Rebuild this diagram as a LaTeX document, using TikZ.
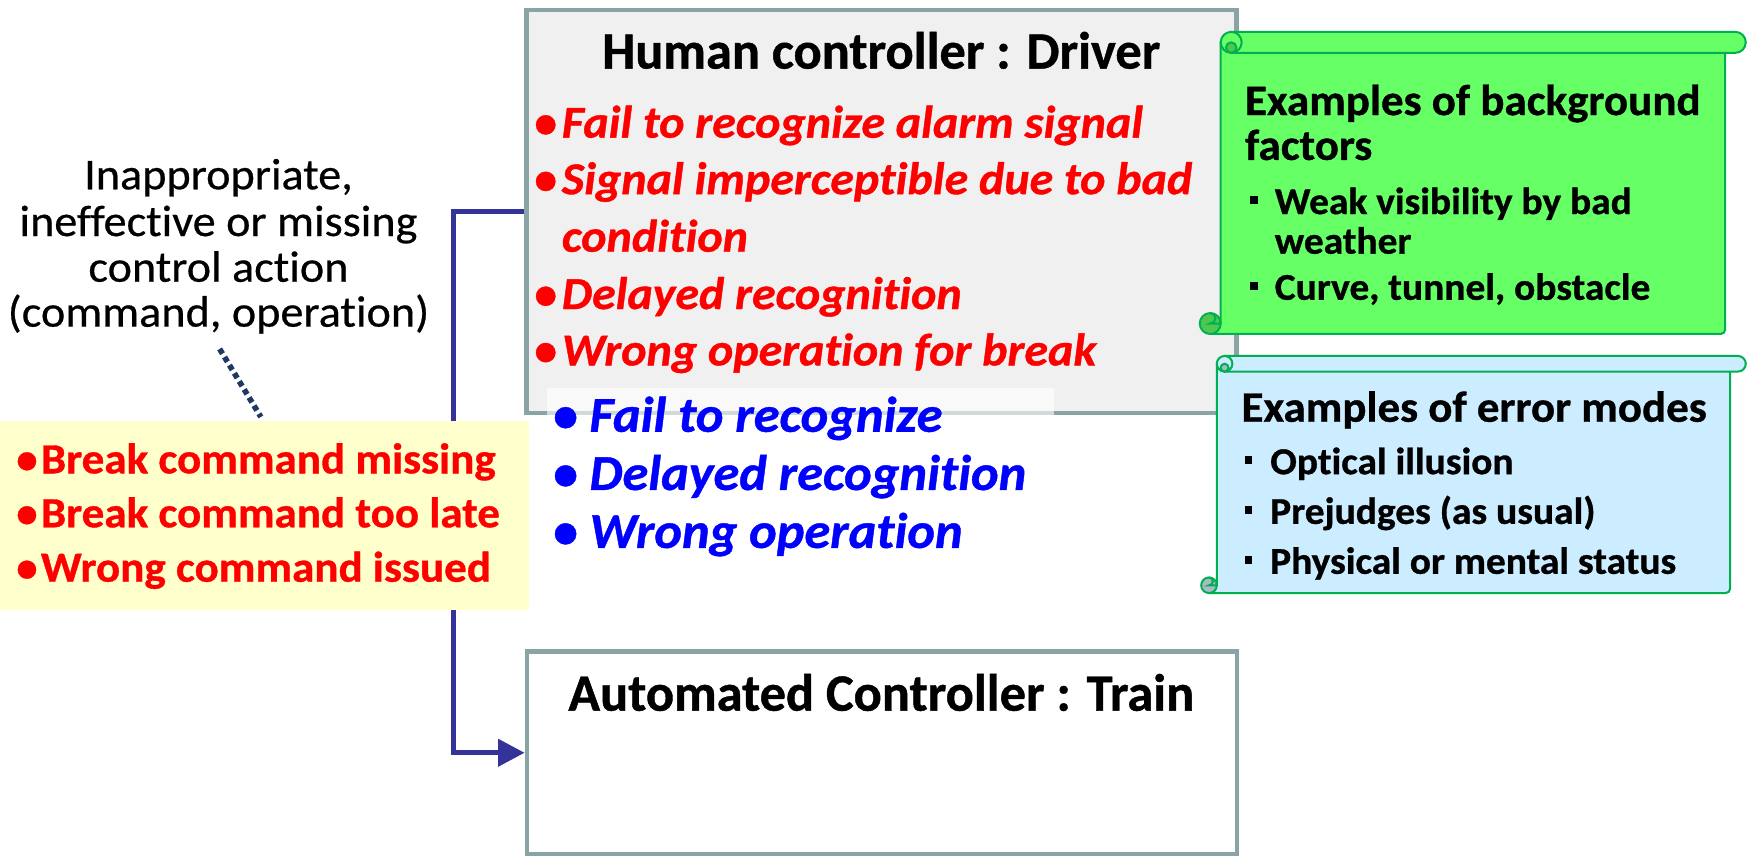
\documentclass[tikz,border=0pt]{standalone}
\usepackage{fontspec}
\setmainfont{Carlito}[
  Ligatures=NoCommon,
  UprightFeatures={FakeBold=0.5},
  BoldFeatures={FakeBold=0.8},
  ItalicFeatures={FakeBold=0.5},
  BoldItalicFeatures={FakeBold=0.8}]
\usepackage{graphicx}
\usetikzlibrary{arrows.meta}

\definecolor{boxline}{HTML}{8AA3A5}
\definecolor{boxfill}{HTML}{F0F0F0}
\definecolor{flowblue}{HTML}{333399}
\definecolor{dotnavy}{HTML}{1F3864}
\definecolor{noteyellow}{HTML}{FFFFCC}
\definecolor{errred}{HTML}{FF0000}
\definecolor{modeblue}{HTML}{0000FF}
\definecolor{scrollgreen}{HTML}{66FF66}
\definecolor{scrollgreendark}{HTML}{4FC84F}
\definecolor{scrollblue}{HTML}{CCECFF}
\definecolor{scrollbluedark}{HTML}{A9BAC6}
\definecolor{scrolledge}{HTML}{00B050}

% horizontal stretch of a line of text
\newcommand{\sx}[2]{\scalebox{#1}[1]{#2}}
% bullet hanging left of the text start, centred #1/2 before it
\newcommand{\dotmark}[1]{\llap{\makebox[#1][c]{\textbullet}}}
% small square bullet hanging left of the text start
\newcommand{\sqmark}[1]{\llap{\rule[9pt]{7pt}{7pt}\hspace{#1}}}

% scroll banner: #1 body left, #2 top, #3 body right, #4 right end of roll,
% #5 bottom, #6 curl radius, #7 fill, #8 shade of the curls
\newcommand{\scrollbanner}[8]{%
  \pgfmathsetmacro\curlhalf{#6/2}%
  \draw[scrollpen, fill=#7] (#1,#2+#6) -- (#1,#5-#6) -- (#1-#6,#5-#6) -- (#1-#6,#5)
    -- (#3-4,#5) arc[start angle=-90, end angle=0, radius=4pt] -- (#3,#2+#6) -- cycle;
  \draw[scrollpen, fill=#7] (#1+#6,#2) -- (#4-#6,#2)
    arc[start angle=90, end angle=-90, radius=#6pt] -- (#1+#6,#2+2*#6) -- cycle;
  \draw[scrollpen, fill=#7] (#1+#6,#2+#6) circle[radius=#6pt];
  \draw[scrollpen, fill=#8] (#1+#6,#2+1.5*#6) circle[radius=\curlhalf pt];
  \draw[scrollpen, fill=#8] (#1-#6,#5-#6) circle[radius=#6pt];
  \draw[scrollpen] (#1-#6,#5-2*#6) arc[start angle=90, end angle=-90, radius=\curlhalf pt]
    -- (#1,#5-#6);
}

\tikzset{
  panel/.style={draw=boxline, line width=4pt, inner sep=0pt},
  flow/.style={draw=flowblue, line width=4.2pt},
  dots/.style={draw=dotnavy, line width=5pt, dash pattern=on 5pt off 3.5pt},
  scrollpen/.style={draw=scrolledge, line width=1.8pt},
  hdr/.style={font=\fontsize{47}{47}\selectfont\bfseries, anchor=base, inner sep=0pt},
  errline/.style={font=\fontsize{41}{41}\selectfont\bfseries\itshape, text=errred, anchor=base west, inner sep=0pt},
  modeline/.style={font=\fontsize{45}{45}\selectfont\bfseries\itshape, text=modeblue, anchor=base west, inner sep=0pt},
  cmdline/.style={font=\fontsize{38.5}{38.5}\selectfont\bfseries, text=errred, anchor=base west, inner sep=0pt},
  actline/.style={font=\fontsize{39.5}{39.5}\selectfont, anchor=base, inner sep=0pt},
  scrollhead/.style={font=\fontsize{39}{39}\selectfont\bfseries, anchor=base west, inner sep=0pt},
  scrollitem/.style={font=\fontsize{34}{34}\selectfont\bfseries, anchor=base west, inner sep=0pt},
}

\begin{document}
\begin{tikzpicture}[x=1pt, y=-1pt]
\useasboundingbox (0,0) rectangle (1568,767);

% controller boxes
\node[panel, fill=boxfill, minimum width=637pt, minimum height=361.5pt] (human) at (790.75,189.75) {};
\node[panel, fill=white, minimum width=637pt, minimum height=181.5pt] (auto) at (791,675.25) {};

% control action from the driver to the train
\draw[flow, -{Triangle[length=23.6pt, width=24pt]}] (human.west) -- ++(-63.5,0) |- (auto.west);

% unsafe control actions
\node[fill=noteyellow, inner sep=0pt, minimum width=474.6pt, minimum height=169pt] (note) at (237.3,462.5) {};
\node[cmdline] (cmd1) at (36.5,424.6) {\dotmark{25pt}\sx{1.05}{Break command missing}};
\node[cmdline] (cmd2) at (36.5,473)   {\dotmark{25pt}\sx{1.05}{Break command too late}};
\node[cmdline] (cmd3) at (36.5,521.8) {\dotmark{25pt}\sx{1.05}{Wrong command issued}};

% label of the control action
\node[actline] (act1) at (196,169.8) {\sx{1.05}{Inappropriate,}};
\node[actline] (act2) at (196,211.7) {\sx{1.05}{ineffective or missing}};
\node[actline] (act3) at (196,252.7) {\sx{1.05}{control action}};
\node[actline] (act4) at (196,293)   {\sx{1.05}{(command, operation)}};
\coordinate (leadA) at (197,313);
\coordinate (leadB) at (234,374);
\draw[dots] (leadA) -- (leadB);

% driver
\node[hdr] (humantitle) at (790.5,61.5) {Human controller : Driver};
\node[errline] (err1) at (503.8,123.5) {\dotmark{29.6pt}\sx{1.05}{Fail to recognize alarm signal}};
\node[errline] (err2) at (503.8,174.2) {\dotmark{29.6pt}\sx{1.05}{Signal imperceptible due to bad}};
\node[errline] (err3) at (503.8,225.8) {\sx{1.05}{condition}};
\node[errline] (err4) at (503.8,277.2) {\dotmark{29.6pt}\sx{1.05}{Delayed recognition}};
\node[errline] (err5) at (503.8,327.8) {\dotmark{29.6pt}\sx{1.05}{Wrong operation for break}};

% error modes of the driver
\node[fill=white, fill opacity=0.6, inner sep=0pt, minimum width=455pt, minimum height=60pt] (modebg) at (718,378) {};
\node[modeline] (mode1) at (528.6,387.3) {\dotmark{43.6pt}\sx{1.045}{Fail to recognize}};
\node[modeline] (mode2) at (528.6,439.5) {\dotmark{43.6pt}\sx{1.045}{Delayed recognition}};
\node[modeline] (mode3) at (528.6,491.5) {\dotmark{43.6pt}\sx{1.045}{Wrong operation}};

% train
\node[hdr] (autotitle) at (790.5,637.5) {Automated Controller : Train};

% background factors
\scrollbanner{1095}{28.6}{1547.5}{1566}{299.6}{9.4}{scrollgreen}{scrollgreendark}
\node[scrollhead] (bghead1) at (1116.6,103.2) {\sx{1.035}{Examples of background}};
\node[scrollhead] (bghead2) at (1116.6,143.4) {\sx{1.035}{factors}};
\node[scrollitem] (bg1) at (1143.3,192)   {\sqmark{15pt}\sx{1.04}{Weak visibility by bad}};
\node[scrollitem] (bg2) at (1143.3,227.5) {\sx{1.04}{weather}};
\node[scrollitem] (bg3) at (1143.3,268.9) {\sqmark{15pt}\sx{1.04}{Curve, tunnel, obstacle}};

% error modes
\scrollbanner{1091.5}{319.3}{1552}{1566}{532}{7}{scrollblue}{scrollbluedark}
\node[scrollhead] (emhead) at (1113.5,378.3) {\sx{1.035}{Examples of error modes}};
\node[scrollitem] (em1) at (1139.2,425.3) {\sqmark{16pt}\sx{1.04}{Optical illusion}};
\node[scrollitem] (em2) at (1139.2,469.9) {\sqmark{16pt}\sx{1.04}{Prejudges (as usual)}};
\node[scrollitem] (em3) at (1139.2,514.7) {\sqmark{16pt}\sx{1.04}{Physical or mental status}};
\end{tikzpicture}
\end{document}
